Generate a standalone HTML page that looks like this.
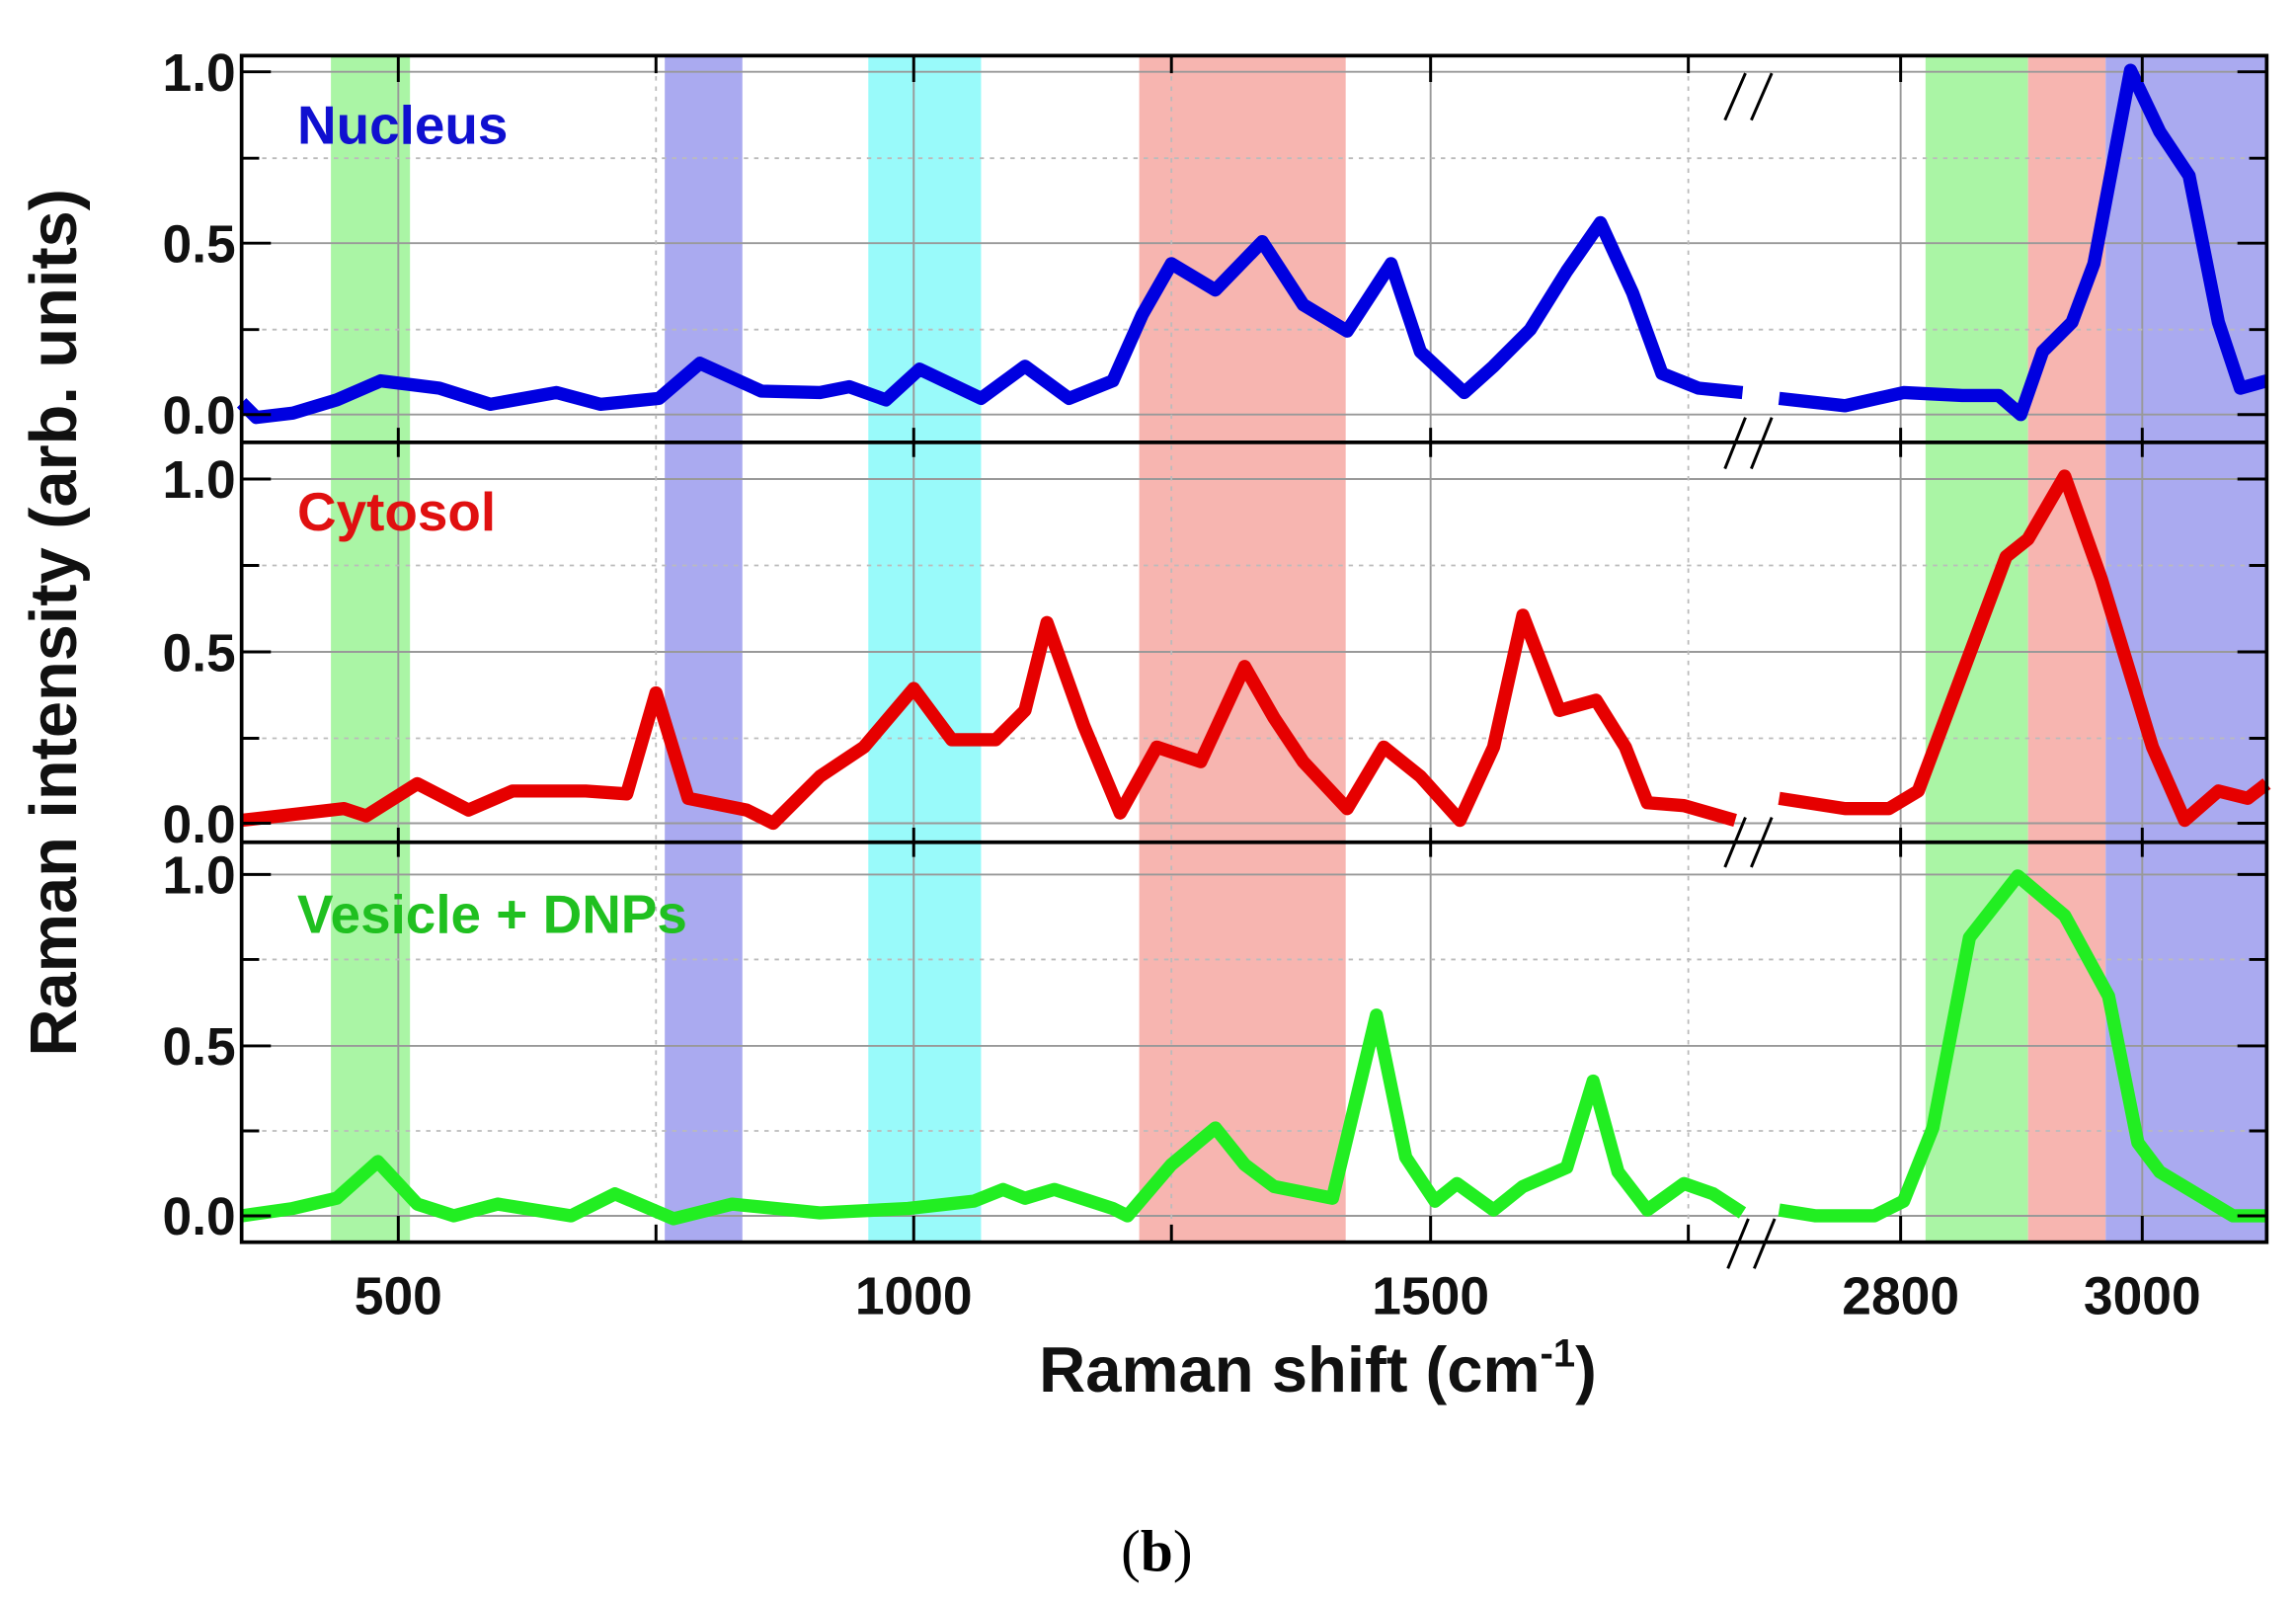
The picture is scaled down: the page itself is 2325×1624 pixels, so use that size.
<!DOCTYPE html>
<html><head><meta charset="utf-8"><style>html,body{margin:0;padding:0;background:#fff}svg{display:block}</style></head>
<body>
<svg width="2325" height="1624" viewBox="0 0 1568 1095" preserveAspectRatio="none" xmlns="http://www.w3.org/2000/svg" font-family="Liberation Sans, sans-serif">
<rect width="1568" height="1095" fill="#fff"/>
<g>
<rect x="226" y="38" width="54" height="810" fill="#aaf5a5"/>
<rect x="454" y="38" width="53" height="810" fill="#aaaaf0"/>
<rect x="593" y="38" width="77" height="810" fill="#99fafa"/>
<rect x="778" y="38" width="141" height="810" fill="#f7b5b0"/>
<rect x="1315" y="38" width="70" height="810" fill="#aaf5a5"/>
<rect x="1385" y="38" width="53" height="810" fill="#f7b5b0"/>
<rect x="1438" y="38" width="110" height="810" fill="#aaaaf0"/>
</g>
<g stroke="#999" stroke-width="1.3">
<line x1="165" y1="49" x2="1548" y2="49"/><line x1="165" y1="166" x2="1548" y2="166"/><line x1="165" y1="283" x2="1548" y2="283"/>
<line x1="165" y1="327" x2="1548" y2="327"/><line x1="165" y1="445" x2="1548" y2="445"/><line x1="165" y1="562" x2="1548" y2="562"/>
<line x1="165" y1="597" x2="1548" y2="597"/><line x1="165" y1="714" x2="1548" y2="714"/><line x1="165" y1="830" x2="1548" y2="830"/>
<line x1="272" y1="38" x2="272" y2="848"/><line x1="624" y1="38" x2="624" y2="848"/><line x1="977" y1="38" x2="977" y2="848"/>
<line x1="1298" y1="38" x2="1298" y2="848"/><line x1="1463" y1="38" x2="1463" y2="848"/>
</g>
<g stroke="#bbb" stroke-width="1.2" stroke-dasharray="3,4">
<line x1="165" y1="108" x2="1548" y2="108"/><line x1="165" y1="225" x2="1548" y2="225"/>
<line x1="165" y1="386" x2="1548" y2="386"/><line x1="165" y1="504" x2="1548" y2="504"/>
<line x1="165" y1="655" x2="1548" y2="655"/><line x1="165" y1="772" x2="1548" y2="772"/>
<line x1="448" y1="38" x2="448" y2="848"/><line x1="800" y1="38" x2="800" y2="848"/><line x1="1153" y1="38" x2="1153" y2="848"/>
</g>
<g fill="none" stroke-width="9" stroke-linejoin="round" stroke-linecap="butt">
<polyline stroke="#0000e0" points="165,275 175,285 200,282 230,273 260,260 300,265 335,276 380,268 410,276 450,272 478,248 520,267 560,268 580,264 605,273 628,252 670,272 700,250 730,272 760,260 780,215 800,180 830,198 862,165 890,208 920,226 950,180 970,240 1000,268 1020,250 1045,225 1070,185 1093,152 1115,200 1135,255 1160,265 1190,268"/>
<polyline stroke="#0000e0" points="1215,272 1260,277 1300,268 1340,270 1365,270 1380,283 1395,240 1415,220 1430,180 1455,48 1475,90 1495,120 1515,220 1530,265 1548,260"/>
<polyline stroke="#e60000" points="165,560 200,556 235,552 250,557 285,535 320,553 350,540 400,540 428,542 448,473 470,545 510,553 528,562 560,530 590,510 624,470 650,505 680,505 700,485 715,425 740,495 765,555 790,510 820,520 850,455 870,490 890,520 920,552 945,510 970,530 997,560 1020,510 1040,420 1065,485 1090,478 1110,510 1125,548 1150,550 1185,560"/>
<polyline stroke="#e60000" points="1215,545 1260,552 1290,552 1310,540 1340,460 1370,380 1385,368 1410,325 1435,395 1470,510 1492,560 1515,540 1535,545 1548,535"/>
<polyline stroke="#22ee22" points="165,830 200,825 230,818 258,793 285,822 310,830 340,822 390,830 420,815 460,832 500,822 560,828 620,825 665,820 685,812 700,818 720,812 760,825 770,830 800,795 830,770 850,795 870,810 910,818 940,693 960,790 980,820 995,808 1020,826 1040,810 1070,797 1088,738 1105,800 1125,826 1150,808 1170,815 1190,828"/>
<polyline stroke="#22ee22" points="1215,826 1240,830 1280,830 1300,820 1320,770 1345,640 1378,598 1410,625 1440,680 1460,780 1475,800 1500,815 1525,830 1548,830"/>
</g>
<g stroke="#000" stroke-width="2.5" fill="none">
<rect x="165" y="38" width="1383" height="810"/>
<line x1="165" y1="302" x2="1548" y2="302"/><line x1="165" y1="575" x2="1548" y2="575"/>
</g>
<g stroke="#000" stroke-width="2">
<path d="M165 49h20M165 166h20M165 283h20M165 327h20M165 445h20M165 562h20M165 597h20M165 714h20M165 830h20M165 108h12M165 225h12M165 386h12M165 504h12M165 655h12M165 772h12"/>
<path d="M1548 49h-20M1548 166h-20M1548 283h-20M1548 327h-20M1548 445h-20M1548 562h-20M1548 597h-20M1548 714h-20M1548 830h-20M1548 108h-12M1548 225h-12M1548 386h-12M1548 504h-12M1548 655h-12M1548 772h-12"/>
<path d="M272 848v-18M624 848v-18M977 848v-18M1298 848v-18M1463 848v-18M448 848v-12M800 848v-12M1153 848v-12"/>
<path d="M272 38v18M624 38v18M977 38v18M1298 38v18M1463 38v18M448 38v12M800 38v12M1153 38v12"/>
<path d="M272 292v20M624 292v20M977 292v20M1298 292v20M1463 292v20M272 565v20M624 565v20M977 565v20M1298 565v20M1463 565v20"/>
</g>
<g stroke="#000" stroke-width="2">
<line x1="1178" y1="82" x2="1192" y2="50"/><line x1="1196" y1="82" x2="1210" y2="50"/>
<line x1="1178" y1="320" x2="1192" y2="285"/><line x1="1196" y1="320" x2="1210" y2="285"/>
<line x1="1178" y1="592" x2="1192" y2="558"/><line x1="1196" y1="592" x2="1210" y2="558"/>
<line x1="1180" y1="866" x2="1194" y2="832"/><line x1="1198" y1="866" x2="1212" y2="832"/>
</g>
<g font-size="36" font-weight="bold" fill="#111" text-anchor="end">
<text x="161" y="62">1.0</text><text x="161" y="179">0.5</text><text x="161" y="296">0.0</text>
<text x="161" y="340">1.0</text><text x="161" y="458">0.5</text><text x="161" y="575">0.0</text>
<text x="161" y="610">1.0</text><text x="161" y="727">0.5</text><text x="161" y="843">0.0</text>
</g>
<g font-size="36" font-weight="bold" fill="#111" text-anchor="middle">
<text x="272" y="897">500</text><text x="624" y="897">1000</text><text x="977" y="897">1500</text>
<text x="1298" y="897">2800</text><text x="1463" y="897">3000</text>
</g>
<text x="900" y="950" font-size="44" font-weight="bold" text-anchor="middle" fill="#111">Raman shift (cm<tspan font-size="27" dy="-17">-1</tspan><tspan dy="17">)</tspan></text>
<text transform="translate(52,425) rotate(-90)" font-size="45" font-weight="bold" text-anchor="middle" fill="#111">Raman intensity (arb. units)</text>
<text x="203" y="98" font-size="37" font-weight="bold" fill="#1010d0">Nucleus</text>
<text x="203" y="362" font-size="37" font-weight="bold" fill="#e01010">Cytosol</text>
<text x="203" y="637" font-size="37" font-weight="bold" fill="#20c020">Vesicle + DNPs</text>
<text x="790" y="1072" font-size="40" font-family="Liberation Serif, serif" text-anchor="middle" fill="#000">(<tspan font-weight="bold">b</tspan>)</text>
</svg>
</body></html>
